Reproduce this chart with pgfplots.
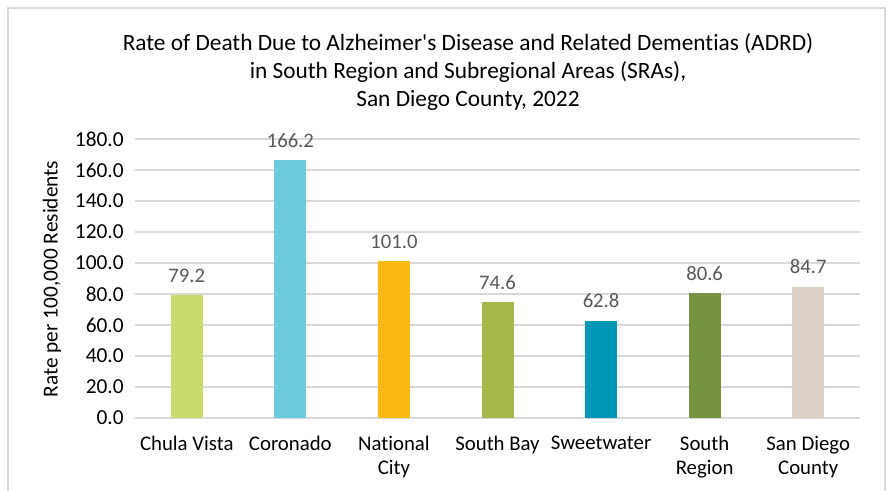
\documentclass[border=0pt]{standalone}
\usepackage{pgfplots}
\pgfplotsset{compat=1.18}
\usepackage{fontspec}
\setmainfont{Carlito}[Ligatures={NoCommon}]
\definecolor{c1}{HTML}{C9DB6C}
\definecolor{c2}{HTML}{6CCBDC}
\definecolor{c3}{HTML}{FDB913}
\definecolor{c4}{HTML}{A5B94A}
\definecolor{c5}{HTML}{0096B6}
\definecolor{c6}{HTML}{779243}
\definecolor{c7}{HTML}{DAD0C6}
\definecolor{gridc}{HTML}{D9D9D9}
\definecolor{lblc}{HTML}{595959}
\begin{document}
\begin{tikzpicture}[x=0.75pt,y=0.75pt]
\path[use as bounding box] (0,0) rectangle (892,491);
\draw[gridc, line width=1.2pt] (8,-5) -- (8,483) -- (885,483) -- (885,-5);
\node[align=center, font=\fontsize{17.5pt}{21pt}\selectfont, text=black] at (468,419)
 {Rate of Death Due to Alzheimer\textquotesingle s Disease and Related Dementias (ADRD)\\in South Region and Subregional Areas (SRAs),\\San Diego County, 2022};
\node[rotate=90, font=\fontsize{16pt}{18pt}\selectfont] at (52,212) {Rate per 100,000 Residents};
\begin{axis}[
  at={(101.25pt,54.75pt)}, anchor=south west,
  scale only axis, width=543.75pt, height=209.25pt,
  xmin=-0.5, xmax=6.5, ymin=0, ymax=180,
  ytick={0,20,...,180},
  xtick={0,1,2,3,4,5,6},
  xticklabels={Chula Vista, Coronado, {National\\City}, South Bay, Sweetwater, {South\\Region}, {San Diego\\County}},
  xticklabel style={align=center, font=\fontsize{15.6pt}{18pt}\selectfont, yshift=-6pt},
  yticklabel style={font=\fontsize{16pt}{18pt}\selectfont, xshift=-5pt, /pgf/number format/.cd, fixed, fixed zerofill, precision=1},
  /pgf/number format/assume math mode=true,
  axis line style={draw=none},
  major tick style={draw=none},
  ymajorgrids=true,
  major grid style={gridc, line width=1.1pt},
  ybar, bar width=24pt, bar shift=0pt,
  nodes near coords,
  every node near coord/.append style={font=\fontsize{15.5pt}{18pt}\selectfont, text=lblc, yshift=6pt, /pgf/number format/.cd, fixed, fixed zerofill, precision=1},
  clip=false,
]
\addplot[fill=c1, draw=none] coordinates {(0,79.2)};
\addplot[fill=c2, draw=none] coordinates {(1,166.2)};
\addplot[fill=c3, draw=none] coordinates {(2,101.0)};
\addplot[fill=c4, draw=none] coordinates {(3,74.6)};
\addplot[fill=c5, draw=none] coordinates {(4,62.8)};
\addplot[fill=c6, draw=none] coordinates {(5,80.6)};
\addplot[fill=c7, draw=none] coordinates {(6,84.7)};
\end{axis}
\end{tikzpicture}
\end{document}
